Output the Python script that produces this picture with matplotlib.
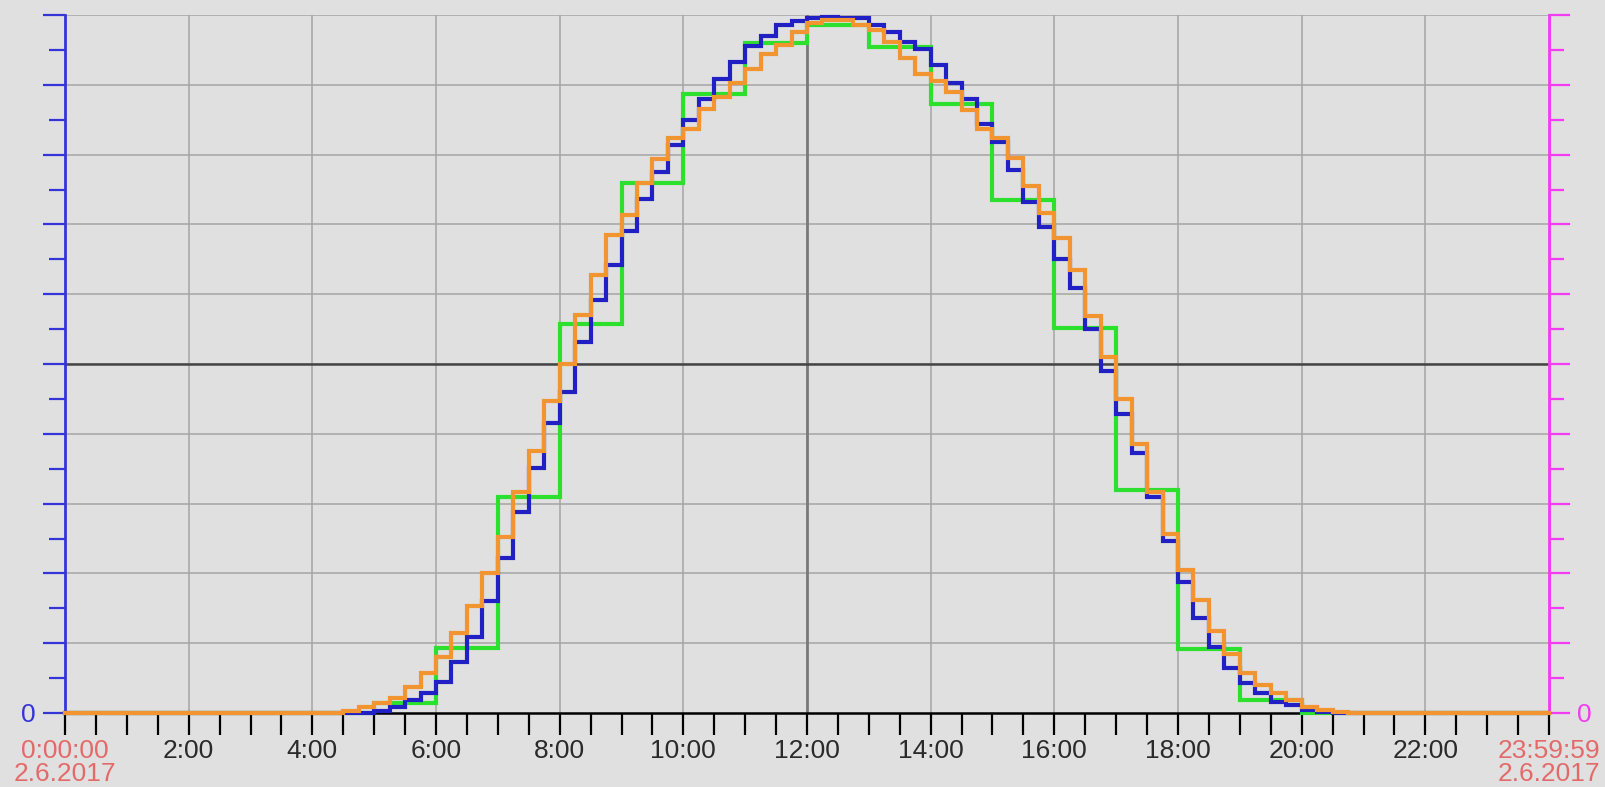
import matplotlib
matplotlib.use("Agg")
import matplotlib.pyplot as plt
from matplotlib.ticker import MultipleLocator, FixedLocator, FuncFormatter

# ---- data (hours, relative value 0..100) ----
blue_start = 5.0      # quarter-hour series
blue_values = [0.3, 0.9, 1.8, 2.8, 4.5, 7.3, 10.9, 16.1, 22.2, 28.8, 35.1, 41.6,
               46.0, 53.1, 59.1, 64.2, 69.1, 73.6, 77.5, 81.4, 84.9, 88.0, 90.8, 93.2,
               95.5, 97.0, 98.5, 99.1, 99.6, 99.7, 99.6, 99.5, 98.5, 97.5, 96.1, 95.2,
               92.9, 90.3, 88.0, 84.4, 81.8, 77.8, 73.2, 69.6, 65.0, 60.9, 55.0, 49.0,
               42.9, 37.2, 31.0, 24.7, 18.7, 13.6, 9.4, 6.4, 4.3, 2.8, 1.6, 1.1,
               0.4, 0.2, 0.0]
orange_start = 4.5    # quarter-hour series
orange_values = [0.3, 0.8, 1.4, 2.1, 3.7, 5.7, 8.0, 11.4, 15.4, 20.1, 25.2, 31.6,
                 37.5, 44.7, 50.0, 57.0, 62.8, 68.5, 71.4, 76.0, 79.3, 82.4, 83.7, 86.5,
                 88.3, 90.2, 92.3, 94.4, 95.7, 97.5, 98.8, 99.3, 99.3, 98.5, 97.8, 96.2,
                 93.9, 91.6, 90.6, 89.0, 86.4, 83.7, 82.4, 79.5, 75.5, 71.6, 68.0, 63.4,
                 56.9, 51.0, 45.0, 38.5, 31.6, 25.7, 20.5, 16.2, 11.8, 8.5, 5.7, 4.0,
                 2.8, 1.9, 0.9, 0.4, 0.2, 0.0]
green_start = 5.0     # hourly series
green_values = [1.5, 9.3, 31.0, 55.7, 76.0, 88.7, 96.0, 98.6, 95.4, 87.3, 73.5,
                55.2, 31.9, 9.2, 1.9, 0.0]

hour_labels = ["2:00", "4:00", "6:00", "8:00", "10:00", "12:00", "14:00", "16:00",
               "18:00", "20:00", "22:00"]
start_label = "0:00:00\n2.6.2017"
end_label = "23:59:59\n2.6.2017"
cursor_time = 12.0
cursor_value = 50.0

# ---- style ----
BG = "#e0e0e0"
BLUE = "#2020c4"
ORANGE = "#f29430"
GREEN = "#2ee02e"
LEFT_AX = "#3434d8"
RIGHT_AX = "#f23cf2"
RED = "#e46a6a"
FONT = ["Liberation Sans", "DejaVu Sans"]
plt.rcParams["font.family"] = FONT

W, H = 1605, 787
fig = plt.figure(figsize=(W / 100, H / 100), dpi=100, facecolor=BG)
x0, x1, ytop, ybot = 65, 1549, 15, 713
ax = fig.add_axes([x0 / W, (H - ybot) / H, (x1 - x0) / W, (ybot - ytop) / H])
ax.set_facecolor(BG)
ax.set_xlim(0, 24)
ax.set_ylim(0, 100)


def series(start, step, vals):
    xs = [0.0] + [start + step * i for i in range(len(vals))] + [24.0]
    ys = [0.0] + list(vals) + [vals[-1]]
    return xs, ys


lw = 3.0
for (start, step, vals, col, z) in [(green_start, 1.0, green_values, GREEN, 3),
                                    (blue_start, 0.25, blue_values, BLUE, 4),
                                    (orange_start, 0.25, orange_values, ORANGE, 5)]:
    xs, ys = series(start, step, vals)
    ax.step(xs, ys, where="post", color=col, lw=lw, zorder=z, clip_on=False,
            solid_joinstyle="miter")

# grid
for h in range(2, 24, 2):
    ax.axvline(h, color="#a4a4a4", lw=1.1, zorder=1)
for v in range(10, 101, 10):
    ax.axhline(v, color="#a4a4a4", lw=1.1, zorder=1)
# cursor lines
ax.axvline(cursor_time, color="#7a7a7a", lw=2.0, zorder=2)
ax.axhline(cursor_value, color="#454545", lw=1.8, zorder=2)

# spines
ax.spines["top"].set_visible(False)
ax.spines["left"].set_color(LEFT_AX)
ax.spines["left"].set_linewidth(2.0)
ax.spines["right"].set_color(RIGHT_AX)
ax.spines["right"].set_linewidth(2.0)
ax.spines["bottom"].set_color("black")
ax.spines["bottom"].set_linewidth(1.8)

# x ticks
major = list(range(0, 25, 2))
ax.xaxis.set_major_locator(FixedLocator(major))
ax.xaxis.set_minor_locator(MultipleLocator(0.5))
labels = [start_label] + hour_labels + [end_label]
ax.set_xticklabels(labels)
ax.tick_params(axis="x", which="both", direction="out", length=16, width=1.6,
               color="black", pad=3, labelsize=19, labelcolor="#2a2a2a")
xt = ax.get_xticklabels()
for lab in (xt[0], xt[-1]):
    lab.set_color(RED)
    lab.set_linespacing(0.95)
ticks = ax.xaxis.get_major_ticks()
ticks[0].tick1line.set_color(RED)
ticks[-1].tick1line.set_color(RED)

# left y axis
ax.yaxis.set_major_locator(MultipleLocator(10))
ax.yaxis.set_minor_locator(MultipleLocator(5))
ax.yaxis.set_major_formatter(FuncFormatter(lambda v, p: "0" if abs(v) < 1e-9 else ""))
ax.tick_params(axis="y", which="major", direction="out", length=16, width=1.6,
               color=LEFT_AX, labelcolor=LEFT_AX, labelsize=19, pad=5)
ax.tick_params(axis="y", which="minor", direction="out", length=11.5, width=1.6,
               color=LEFT_AX)

# right y axis
ax2 = ax.twinx()
ax2.set_ylim(0, 100)
for s in ("top", "left", "bottom"):
    ax2.spines[s].set_visible(False)
ax2.spines["right"].set_color(RIGHT_AX)
ax2.spines["right"].set_linewidth(2.0)
ax2.yaxis.set_major_locator(MultipleLocator(10))
ax2.yaxis.set_minor_locator(MultipleLocator(5))
ax2.yaxis.set_major_formatter(FuncFormatter(lambda v, p: "0" if abs(v) < 1e-9 else ""))
ax2.tick_params(axis="y", which="major", direction="out", length=15, width=1.6,
                color=RIGHT_AX, labelcolor=RIGHT_AX, labelsize=19, pad=5)
ax2.tick_params(axis="y", which="minor", direction="out", length=11, width=1.6,
                color=RIGHT_AX)
ax2.set_zorder(ax.get_zorder() - 1)
ax.patch.set_visible(True)
ax2.patch.set_visible(False)
ax.set_zorder(2)

fig.savefig("out.png", dpi=100, facecolor=BG)
